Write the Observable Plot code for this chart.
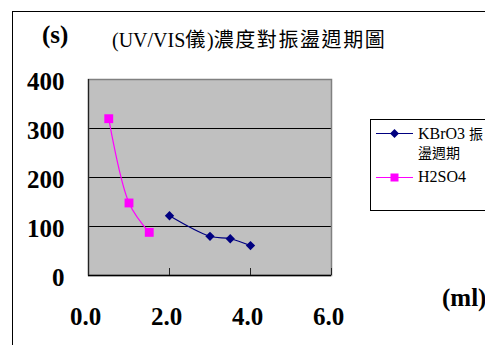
<!DOCTYPE html>
<html>
<head>
<meta charset="utf-8">
<script src="https://cdn.jsdelivr.net/npm/d3@7"></script>
<script src="https://cdn.jsdelivr.net/npm/@observablehq/plot@0.6"></script>
<style>
  html, body { margin: 0; padding: 0; background: #fff; }
  #wrap { position: relative; width: 485px; height: 345px; overflow: hidden; background: #fff; }
  #wrap svg.plot { position: absolute; left: 0; top: 0; }
  .abs { position: absolute; white-space: nowrap; }
  .serifb { font-family: "Liberation Serif", "Times New Roman", serif; font-weight: bold; }
  .cjk { font-family: "Noto Sans CJK TC", "Noto Sans CJK SC", sans-serif; }
  .lat { font-family: "Liberation Serif", "Times New Roman", serif; }
</style>
</head>
<body>
<div id="wrap">
  <div class="abs" style="left:12px;top:11px;width:520px;height:360px;border:1px solid #000;"></div>
  <div class="abs serifb" style="left:42px;top:22px;font-size:25px;line-height:25px;">(s)</div>
  <div class="abs" id="title" style="left:112px;top:28px;font-size:20px;line-height:22px;"></div>
  <div class="abs serifb" style="left:442px;top:285px;font-size:25px;line-height:25px;">(ml)</div>
  <div class="abs" id="legend" style="left:370px;top:119px;width:130px;height:90px;border:1px solid #000;background:#fff;"></div>
</div>
<script>
// ---- data ----
const seriesNames = ["KBrO3 振盪週期", "H2SO4"];
const kbro3X = [2.0, 3.0, 3.5, 4.0];
const kbro3Y = [122, 80, 75, 61];
const h2so4X = [0.5, 1.0, 1.5];
const h2so4Y = [320, 148, 88];
const yTicks = [0, 100, 200, 300, 400];
const yGrid = [100, 200, 300];
const xTicks = [0, 2, 4, 6];
const titleText = "(UV/VIS儀)濃度對振盪週期圖";
const seriesColors = ["#000080", "#ff00ff"];

const kbro3 = kbro3X.map((x, i) => ({x, y: kbro3Y[i]}));
const h2so4 = h2so4X.map((x, i) => ({x, y: h2so4Y[i]}));

// title with latin in serif, CJK in CJK font
const titleEl = document.getElementById("title");
titleEl.innerHTML = titleText.replace(/([^\u3000-\u9fff]+)|([\u3000-\u9fff]+)/g, (m, a, b) =>
  a ? `<span class="lat">${a}</span>` : `<span class="cjk" style="letter-spacing:1.6px">${b}</span>`);

const tickFont = {fontFamily: "Liberation Serif, Times New Roman, serif", fontWeight: "bold", fontSize: 25, fill: "#000"};

const chart = Plot.plot({
  width: 485,
  height: 345,
  marginLeft: 88,
  marginRight: 154,
  marginTop: 79,
  marginBottom: 70,
  x: {domain: [0, 6]},
  y: {domain: [0, 400]},
  style: {background: "transparent", overflow: "visible"},
  marks: [
    Plot.frame({fill: "#c0c0c0", stroke: "none"}),
    Plot.ruleY(yGrid, {stroke: "#000", strokeWidth: 1}),
    Plot.frame({stroke: "#808080", strokeWidth: 1.5}),
    Plot.ruleY([0], {stroke: "#000", strokeWidth: 1.5}),
    Plot.ruleX([0], {stroke: "#222", strokeWidth: 1.2}),
    Plot.ruleX(xTicks, {y1: 0, y2: 0, insetTop: -7, stroke: "#222"}),
    Plot.axisY({ticks: yTicks, tickSize: 0, tickPadding: 24, label: null, dy: 2, ...tickFont}),
    Plot.axisX({ticks: xTicks, tickSize: 0, tickPadding: 32, label: null, dx: -3, tickFormat: d3.format(".1f"), ...tickFont}),
    Plot.line(h2so4, {x: "x", y: "y", stroke: seriesColors[1], strokeWidth: 1.2, curve: "catmull-rom"}),
    Plot.line(kbro3, {x: "x", y: "y", stroke: seriesColors[0], strokeWidth: 1.2, curve: "catmull-rom"}),
    Plot.dot(h2so4, {x: "x", y: "y", symbol: "square", r: 5, fill: seriesColors[1], stroke: "none"}),
    Plot.dot(kbro3, {x: "x", y: "y", symbol: "diamond2", r: 4.2, fill: seriesColors[0], stroke: "none"})
  ]
});
chart.classList.add("plot");
document.getElementById("wrap").insertBefore(chart, document.getElementById("title"));

// legend
const [k1, k2] = seriesNames[0].split(" ");
const legend = document.getElementById("legend");
legend.innerHTML = `
<svg width="50" height="90" style="position:absolute;left:0;top:0;">
  <line x1="5" x2="42" y1="13.5" y2="13.5" stroke="${seriesColors[0]}" stroke-width="1.2"/>
  <path d="M23.5,9 L28,13.5 L23.5,18 L19,13.5 Z" fill="${seriesColors[0]}"/>
  <line x1="5" x2="42" y1="57.5" y2="57.5" stroke="${seriesColors[1]}" stroke-width="1.2"/>
  <rect x="19.5" y="53.5" width="8" height="8" fill="${seriesColors[1]}"/>
</svg>
<div style="position:absolute;left:47px;top:5px;font-size:16px;line-height:16px;height:16px;">
  <span class="lat">${k1} </span><span class="cjk" style="font-size:14px;">${k2.slice(0,1)}</span>
</div>
<div class="cjk" style="position:absolute;left:47px;top:24px;font-size:14px;line-height:16px;height:16px;">${k2.slice(1)}</div>
<div class="lat" style="position:absolute;left:47px;top:49px;font-size:16px;line-height:16px;">${seriesNames[1]}</div>`;
</script>
</body>
</html>
